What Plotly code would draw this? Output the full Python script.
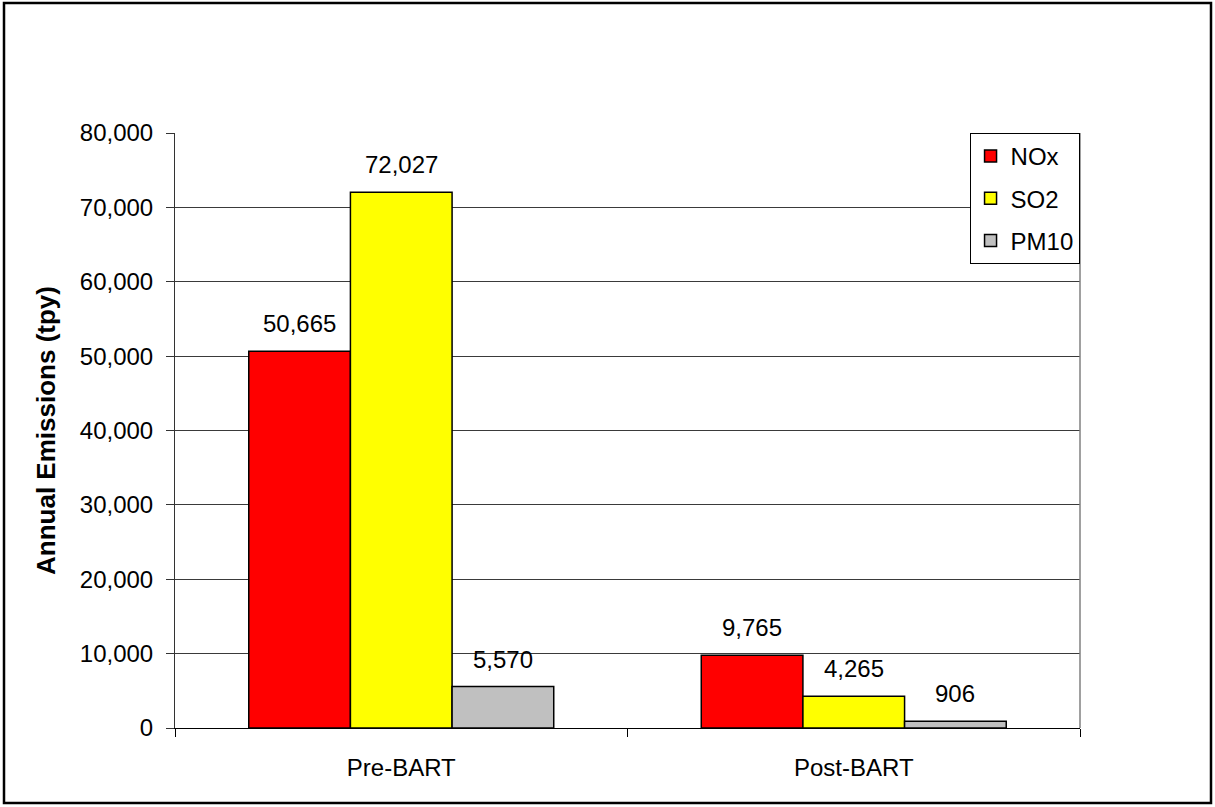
import plotly.graph_objects as go

categories = ["Pre-BART", "Post-BART"]
series_names = ["NOx", "SO2", "PM10"]
nox = [50665, 9765]
so2 = [72027, 4265]
pm10 = [5570, 906]
colors = ["#FF0000", "#FFFF00", "#C0C0C0"]
y_ticks = [0, 10000, 20000, 30000, 40000, 50000, 60000, 70000, 80000]

FONT = "Arial, Liberation Sans, sans-serif"
BARGAP = 0.326
series = [nox, so2, pm10]
n = len(series)

fig = go.Figure()
for name, vals, col in zip(series_names, series, colors):
    fig.add_trace(go.Bar(
        x=categories, y=vals, name=name, legendgroup=name,
        marker=dict(color=col, line=dict(color="black", width=1.5)),
    ))

# data labels, positioned at each bar's centre within its group
annotations = []
bw = (1 - BARGAP) / n
for j, vals in enumerate(series):
    for i, v in enumerate(vals):
        annotations.append(dict(
            x=i + (j - (n - 1) / 2) * bw, y=v, xref="x", yref="y",
            text=f"{v:,}", showarrow=False, yanchor="bottom", yshift=12,
            font=dict(family=FONT, size=24, color="black"),
        ))

fig.update_layout(
    width=1215, height=807,
    margin=dict(l=175, r=135, t=133, b=79),
    paper_bgcolor="white", plot_bgcolor="white",
    barmode="group", bargap=BARGAP, bargroupgap=0,
    font=dict(family=FONT, size=24, color="black"),
    showlegend=True,
    legend=dict(x=0.9995, y=1.0, xanchor="right", yanchor="top",
                bgcolor="white", bordercolor="black", borderwidth=1,
                font=dict(size=24), itemwidth=30,
                traceorder="grouped", tracegroupgap=8),
    xaxis=dict(showline=True, linecolor="black", linewidth=1,
               ticks="outside", ticklen=8, tickcolor="black",
               tickson="boundaries", ticklabelstandoff=18,
               tickfont=dict(size=24)),
    yaxis=dict(range=[0, 80000], tickvals=y_ticks, tickformat=",",
               showgrid=True, gridcolor="#3a3a3a", gridwidth=1,
               showline=True, linecolor="#333333", linewidth=1,
               ticks="outside", ticklen=8, tickcolor="#333333",
               ticklabelstandoff=8, zeroline=False,
               title=dict(text="<b>Annual Emissions (tpy)</b>",
                          font=dict(size=26), standoff=16),
               tickfont=dict(size=24)),
    annotations=annotations,
    shapes=[
        dict(type="line", xref="paper", yref="paper", x0=1, x1=1, y0=0, y1=1,
             line=dict(color="#808080", width=1.5)),
        dict(type="rect", xref="paper", yref="paper",
             x0=-171/905, x1=1+131/905, y0=-75/595, y1=1+130/595,
             line=dict(color="black", width=2.5)),
    ],
)

fig.write_html("out.html", config={"displayModeBar": False},
               post_script="document.body.style.margin='0px';document.body.style.overflow='hidden';")
